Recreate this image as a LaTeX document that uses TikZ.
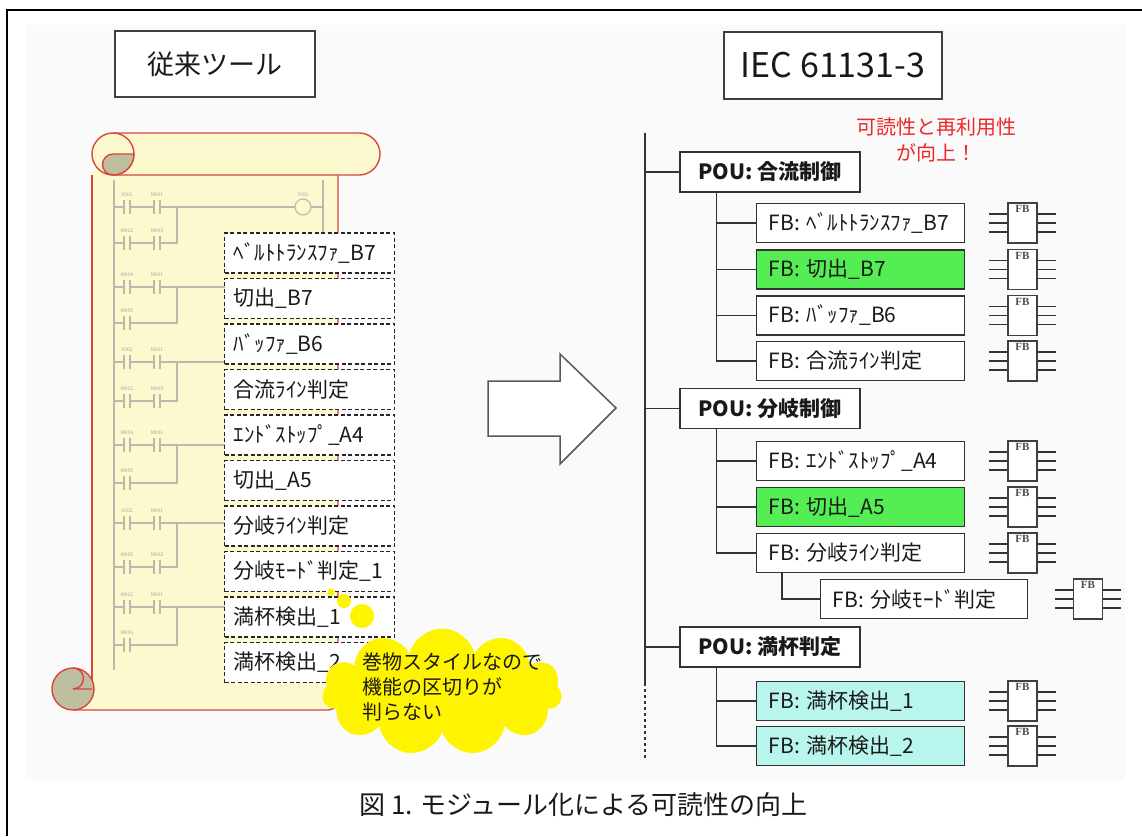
\documentclass[tikz,border=0pt]{standalone}
\usepackage{fontspec}
\setmainfont{Noto Sans CJK JP}
\newfontfamily\iconfont{Liberation Serif}
\usetikzlibrary{shapes.symbols}

\definecolor{scrollfill}{RGB}{253,249,206}
\definecolor{scrolledge}{RGB}{214,72,60}
\definecolor{curlfill}{RGB}{190,190,160}
\definecolor{wire}{RGB}{185,185,172}
\definecolor{fbgreen}{RGB}{84,238,84}
\definecolor{fbaqua}{RGB}{184,245,236}
\definecolor{notered}{RGB}{235,40,40}
\definecolor{bubble}{RGB}{255,244,0}

\begin{document}
\begin{tikzpicture}
	[
	x=1pt, y=-1pt,
	every node/.style={font=\fontsize{21}{25}\selectfont, text=black!90},
	title/.style={draw=black!75, line width=1.2pt, fill=white, minimum width=200pt, minimum height=66pt, font=\fontsize{27}{30}\selectfont},
	ldbox/.style={draw=black!85, line width=1.4pt, dash pattern=on 4pt off 2.5pt, fill=white, anchor=west, minimum height=40pt, text width=152pt, inner xsep=9pt, align=left},
	pou/.style={draw=black!80, line width=1.3pt, fill=white, minimum width=180pt, minimum height=40pt, font=\bfseries\fontsize{21}{25}\selectfont},
	fb/.style={draw=black!80, line width=1.3pt, fill=white, anchor=west, minimum height=39pt, text width=184pt, inner xsep=12pt, align=left},
	fbicon/.style={draw=black!75, line width=1.2pt, fill=white, minimum width=29pt, minimum height=40pt, inner sep=0pt,
		label={[anchor=north, inner sep=3pt, font=\iconfont\bfseries\fontsize{11}{11}\selectfont, text=black!70]north:FB}},
	tree/.style={draw=black!80, line width=1.3pt},
	wireline/.style={draw=wire, line width=1.1pt},
	tag/.style={font=\fontsize{5}{5}\selectfont, text=black!35, inner sep=0pt}
	]
	\useasboundingbox (0,0) rectangle (1142,836);
	\fill[black!2] (25,25) rectangle (1125,780);
	\draw[line width=2pt] (7,836) -- (7,10) -- (1142,10);

	% headings
	\node[title] (oldtool) at (215,64) {従来ツール};
	\node[title, minimum width=218pt, minimum height=67pt, font=\fontsize{34}{38}\selectfont] (iec) at (833,65.5) {IEC 61131-3};

	% scroll sheet
	\fill[scrollfill] (92,170) -- (338,170) -- (338,700) arc[start angle=0, end angle=90, radius=10] -- (73,710) -- (73,689) -- (92,689) -- cycle;
	\draw[scrolledge, line width=1.4pt] (92,175) -- (92,689);
	\draw[scrolledge, line width=1.4pt, rounded corners=10pt] (338,175) -- (338,710) -- (73,710);
	% top roll
	\draw[scrolledge, line width=1.4pt, fill=scrollfill] (113,133) -- (359,133) arc[start angle=-90, end angle=90, radius=21] -- (113,175);
	\draw[scrolledge, line width=1.4pt, fill=scrollfill] (113,154) circle[radius=21];
	\fill[curlfill] (134,154) arc[start angle=0, end angle=90, radius=21] arc[start angle=90, end angle=270, radius=10.5] -- cycle;
	\draw[scrolledge, line width=1.4pt] (134,154) arc[start angle=0, end angle=90, radius=21] arc[start angle=90, end angle=270, radius=10.5] -- (134,154);
	% bottom roll
	\draw[scrolledge, line width=1.4pt, fill=curlfill] (73,689) circle[radius=21];
	\draw[scrolledge, line width=1.4pt] (73,668) arc[start angle=-90, end angle=90, radius=10.5] -- (92,689);

	% ladder program on the sheet
	\draw[wireline] (114,180) -- (114,670);
	\draw[wireline] (323,180) -- (323,240);
	\draw[wireline] (114,207) -- (323,207);
	\draw[wireline, fill=scrollfill] (303,207) circle[radius=8];
	\node[tag] (coiltag) at (303,195) {Y001};
	\foreach \y/\a/\b in {207/X001/M001, 287/M004/M001, 362/X002/M001, 445/M004/M001, 523/X002/M001, 607/M002/M001}
	{
		\draw[wireline] (114,\y) -- (230,\y);
		\foreach \c/\t in {127/\a, 157/\b}
		{
			\fill[scrollfill] (\c-3,\y-2) rectangle (\c+3,\y+2);
			\draw[wireline] (\c-3,\y-7) -- (\c-3,\y+7) (\c+3,\y-7) -- (\c+3,\y+7);
			\node[tag] at (\c,\y-12) {\t};
		}
	}
	\foreach \y/\p/\a/\b in {243/207/M002/M003, 401/362/M002/M003, 567/523/M005/M002}
	{
		\draw[wireline] (114,\y) -- (177,\y) -- (177,\p);
		\foreach \c/\t in {127/\a, 157/\b}
		{
			\fill[scrollfill] (\c-3,\y-2) rectangle (\c+3,\y+2);
			\draw[wireline] (\c-3,\y-7) -- (\c-3,\y+7) (\c+3,\y-7) -- (\c+3,\y+7);
			\node[tag] at (\c,\y-12) {\t};
		}
	}
	\foreach \y/\p/\a in {323/287/M005, 483/445/M005, 645/607/M006}
	{
		\draw[wireline] (114,\y) -- (177,\y) -- (177,\p);
		\fill[scrollfill] (124,\y-2) rectangle (130,\y+2);
		\draw[wireline] (124,\y-7) -- (124,\y+7) (130,\y-7) -- (130,\y+7);
		\node[tag] at (127,\y-12) {\a};
	}

	% old blocks
	\foreach \t [count=\i] in {ﾍﾞﾙﾄﾄﾗﾝｽﾌｧ\_B7, 切出\_B7, ﾊﾞｯﾌｧ\_B6, 合流ﾗｲﾝ判定, ｴﾝﾄﾞｽﾄｯﾌﾟ\_A4, 切出\_A5, 分岐ﾗｲﾝ判定, 分岐ﾓｰﾄﾞ判定\_1, 満杯検出\_1, 満杯検出\_2}
		\node[ldbox] (ld\i) at (224,207.5+45.5*\i) {\t};

	% thought bubble
	\node[cloud, fill=bubble, cloud puffs=11, cloud ignores aspect, minimum width=240pt, minimum height=127pt] (note) at (442,692) {};
	\node[align=left, anchor=west, font=\fontsize{20}{25}\selectfont] (notetext) at (359,687) {巻物スタイルなので\\機能の区切りが\\判らない};
	\fill[bubble] (331,592) circle[radius=3.5] (344,601) circle[radius=7] (362,616) circle[radius=12];

	% arrow
	\draw[black!65, line width=1.5pt, fill=white] (488,381) -- (560,381) -- (560,354) -- (616,408) -- (560,464) -- (560,436) -- (488,436) -- cycle;

	\node[text=notered, align=center, font=\fontsize{20}{26}\selectfont] (gain) at (936,140) {可読性と再利用性\\が向上！};

	% POU tree
	\coordinate (root) at (645,133);
	\coordinate (rootend) at (645,683);
	\coordinate (rootdots) at (645,760);
	\draw[tree] (root) -- (rootend);
	\draw[tree, dashed] (rootend) -- (rootdots);

	\node[pou] (pou1) at (770,172) {POU: 合流制御};
	\node[pou] (pou2) at (770,408.5) {POU: 分岐制御};
	\node[pou] (pou3) at (770,647) {POU: 満杯判定};
	\draw[tree] (pou1.west) -- (pou1.west -| root);
	\draw[tree] (pou2.west) -- (pou2.west -| root);
	\draw[tree] (pou3.west) -- (pou3.west -| root);

	\node[fb] (fb11) at (756,223) {\mbox{FB: ﾍﾞﾙﾄﾄﾗﾝｽﾌｧ\_B7}};
	\node[fb, fill=fbgreen] (fb12) at (756,269.5) {FB: 切出\_B7};
	\node[fb] (fb13) at (756,315.5) {FB: ﾊﾞｯﾌｧ\_B6};
	\node[fb] (fb14) at (756,361) {FB: 合流ﾗｲﾝ判定};
	\node[fb] (fb21) at (756,461) {FB: ｴﾝﾄﾞｽﾄｯﾌﾟ\_A4};
	\node[fb, fill=fbgreen] (fb22) at (756,507) {FB: 切出\_A5};
	\node[fb] (fb23) at (756,553) {FB: 分岐ﾗｲﾝ判定};
	\node[fb, text width=183pt] (fb24) at (820,599) {FB: 分岐ﾓｰﾄﾞ判定};
	\node[fb, fill=fbaqua] (fb31) at (756,701) {FB: 満杯検出\_1};
	\node[fb, fill=fbaqua] (fb32) at (756,746) {FB: 満杯検出\_2};

	\foreach \f in {fb11,fb12,fb13,fb14}
		\draw[tree] ([xshift=37pt]pou1.south west) |- (\f.west);
	\foreach \f in {fb21,fb22,fb23}
		\draw[tree] ([xshift=37pt]pou2.south west) |- (\f.west);
	\foreach \f in {fb31,fb32}
		\draw[tree] ([xshift=37pt]pou3.south west) |- (\f.west);
	\draw[tree] ([xshift=26pt]fb23.south west) |- (fb24.west);

	% block icons
	\foreach \n/\x/\y in {a/1022.5/223, b/1022.5/269.5, c/1022.5/315.5, d/1022.5/361, e/1022.5/461, f/1022.5/507, g/1022.5/553, h/1088/599, i/1022.5/701, j/1022.5/746}
	{
		\node[fbicon] (ic\n) at (\x,\y) {};
		\foreach \d in {-9,0,9}
			\draw[tree, line width=1.1pt] ([yshift=\d pt]ic\n.west) -- ++(-18,0) ([yshift=\d pt]ic\n.east) -- ++(18,0);
	}

	\node[font=\fontsize{26}{30}\selectfont] (caption) at (583.5,805) {図 1. モジュール化による可読性の向上};
\end{tikzpicture}
\end{document}
